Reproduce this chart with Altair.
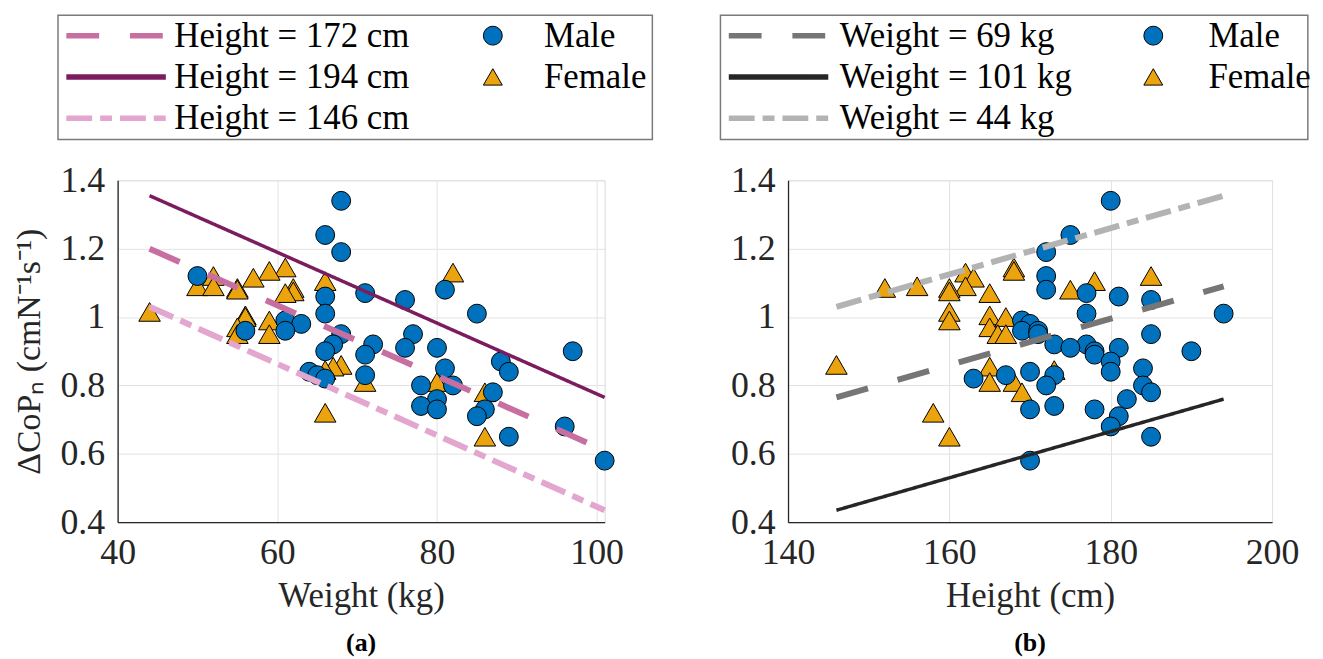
import altair as alt
import pandas as pd

# ---------------- data ----------------
# Male subjects: body weight (kg), height (cm), normalised CoP change
male_weight = [68, 66, 68, 50, 81, 71, 66, 76, 66, 85, 61, 63, 56, 61, 68, 77, 67, 72, 76, 80, 66,
               97, 71, 88, 81, 64, 89, 65, 71, 66, 78, 82, 87, 80, 78, 80, 86, 85, 96, 89, 101]
male_height = [180, 175, 172, 172, 172, 177, 181, 185, 177, 194, 169, 170, 169, 171, 171, 185, 173, 177,
               175, 181, 190, 178, 178, 180, 184, 180, 170, 167, 173, 163, 184, 172, 185, 182, 173, 178,
               170, 181, 180, 185, 170]
male_dcop = [1.34, 1.24, 1.19, 1.12, 1.08, 1.07, 1.06, 1.05, 1.01, 1.01, 0.99, 0.98, 0.96, 0.96, 0.95,
             0.95, 0.92, 0.92, 0.91, 0.91, 0.90, 0.90, 0.89, 0.87, 0.85, 0.84, 0.84, 0.83, 0.83, 0.82,
             0.80, 0.80, 0.78, 0.76, 0.74, 0.73, 0.73, 0.71, 0.68, 0.65, 0.58]

# Female subjects
female_weight = [61, 59, 82, 52, 57, 66, 50, 52, 55, 62, 55, 62, 61, 44, 56, 56, 59, 55, 59, 55,
                 68, 67, 66, 71, 80, 86, 66, 86]
female_height = [168, 168, 162, 185, 163, 178, 156, 162, 152, 160, 175, 160, 165, 160, 165, 167, 160,
                 165, 166, 167, 146, 165, 173, 165, 168, 169, 158, 160]
female_dcop = [1.145, 1.135, 1.13, 1.12, 1.115, 1.105, 1.09, 1.09, 1.085, 1.085, 1.08, 1.075, 1.07,
               1.015, 1.005, 1.00, 0.99, 0.97, 0.95, 0.95, 0.86, 0.855, 0.845, 0.81, 0.81, 0.78, 0.72, 0.65]

# Model lines, panel (a): end points over the weight range
line_weight_range = [44, 101]
height_names = ["Height = 172 cm", "Height = 194 cm", "Height = 146 cm"]
height_172_line = [1.20, 0.61]
height_194_line = [1.355, 0.765]
height_146_line = [1.03, 0.435]

# Model lines, panel (b): end points over the height range
line_height_range = [146, 194]
weight_names = ["Weight = 69 kg", "Weight = 101 kg", "Weight = 44 kg"]
weight_69_line = [0.765, 1.09]
weight_101_line = [0.435, 0.76]
weight_44_line = [1.03, 1.355]

sex_names = ["Male", "Female"]
y_ticks = [0.4, 0.6, 0.8, 1.0, 1.2, 1.4]

# ---------------- tables ----------------
subjects = pd.DataFrame({
    "weight": female_weight + male_weight,
    "height": female_height + male_height,
    "dcop": female_dcop + male_dcop,
    "sex": ["Female"] * len(female_weight) + ["Male"] * len(male_weight),
})

lines_a = pd.DataFrame({
    "weight": line_weight_range * 3,
    "dcop": height_172_line + height_194_line + height_146_line,
    "line": [n for n in height_names for _ in range(2)],
})
lines_b = pd.DataFrame({
    "height": line_height_range * 3,
    "dcop": weight_69_line + weight_101_line + weight_44_line,
    "line": [n for n in weight_names for _ in range(2)],
})

FONT = "Liberation Serif"
FS = 36
LEG_FS = 35
LEG_Y = -163
DASHES = [[33, 31], [1, 0], [26, 8, 12, 8]]


def panel(xfield, xdomain, xticks, xtitle, width, lines_df, names, colors,
          line_leg_x, line_label_offset, mark_leg_x, mark_label_offset, box_x, ytitle, caption):
    xenc = alt.X(f"{xfield}:Q", scale=alt.Scale(domain=xdomain, nice=False, zero=False),
                 axis=alt.Axis(values=xticks, title=xtitle, format="d"))
    yaxis_kwargs = dict(values=y_ticks, format="~g")
    yaxis_kwargs["title"] = ytitle if ytitle else None
    yenc = alt.Y("dcop:Q", scale=alt.Scale(domain=[0.4, 1.4], nice=False, zero=False),
                 axis=alt.Axis(**yaxis_kwargs))

    leg_pts = alt.Legend(title=None, orient="none", legendX=mark_leg_x, legendY=LEG_Y,
                         labelFont=FONT, labelFontSize=LEG_FS, labelColor="black",
                         labelOffset=mark_label_offset, labelLimit=400,
                         symbolSize=361, symbolStrokeColor="black", symbolStrokeWidth=1,
                         rowPadding=5.5, padding=0)
    shape_enc = alt.Shape("sex:N", scale=alt.Scale(domain=sex_names, range=["circle", "triangle-up"]),
                          legend=leg_pts)
    color_enc = alt.Color("sex:N", scale=alt.Scale(domain=sex_names, range=["#0072BD", "#EBA30E"]),
                          legend=leg_pts)
    base_pts = alt.Chart(subjects)
    pts_f = base_pts.transform_filter(alt.datum.sex == "Female").mark_point(
        filled=True, stroke="black", strokeWidth=1, opacity=1, size=470
    ).encode(x=xenc, y=yenc, shape=shape_enc, color=color_enc)
    pts_m = base_pts.transform_filter(alt.datum.sex == "Male").mark_point(
        filled=True, stroke="black", strokeWidth=1, opacity=1, size=361
    ).encode(x=xenc, y=yenc, shape=shape_enc, color=color_enc)

    leg_lines = alt.Legend(title=None, orient="none", legendX=line_leg_x, legendY=LEG_Y,
                           labelFont=FONT, labelFontSize=LEG_FS, labelColor="black",
                           labelOffset=line_label_offset, labelLimit=400,
                           symbolType="M-8.1,0H1", symbolSize=484, symbolStrokeWidth=5.5,
                           rowPadding=5.5, padding=0)
    lines = alt.Chart(lines_df).mark_line(strokeCap="butt").encode(
        x=alt.X(f"{xfield}:Q"), y=alt.Y("dcop:Q"),
        stroke=alt.Stroke("line:N", scale=alt.Scale(domain=names, range=colors), legend=leg_lines),
        strokeDash=alt.StrokeDash("line:N", scale=alt.Scale(domain=names, range=DASHES), legend=leg_lines),
        strokeWidth=alt.condition(alt.datum.line == names[1], alt.value(3.5), alt.value(6)),
    )

    frame = alt.Chart(pd.DataFrame({"k": [0]})).mark_rect(
        fillOpacity=0, stroke="#7a7a7a", strokeWidth=1.5
    ).encode(x=alt.value(box_x[0]), x2=alt.value(box_x[1]), y=alt.value(-166), y2=alt.value(-41))

    return alt.layer(frame, pts_f, pts_m, lines).properties(
        width=width, height=344,
        title=alt.TitleParams(caption, orient="bottom", font=FONT, fontSize=26, fontWeight="bold",
                              color="black", offset=17),
    )


left = panel("weight", [40, 101], [40, 60, 80, 100], "Weight (kg)", 490, lines_a, height_names,
             ["#C86FA2", "#7B1C5E", "#E2A6CF"],
             20, 2, 360, 34, [-60, 538], "ΔCoPₙ (cmN⁻¹s⁻¹)", "(a)")
right = panel("height", [140, 200], [140, 160, 180, 200], "Height (cm)", 487, lines_b, weight_names,
              ["#767676", "#262626", "#B3B3B3"],
              12, 5, 350, 38, [-68, 523], None, "(b)")

chart = alt.hconcat(left, right, spacing=184.5, bounds="flush").resolve_scale(
    x="independent", y="independent", stroke="independent", strokeDash="independent",
    shape="independent", color="independent",
).resolve_legend(
    stroke="independent", strokeDash="independent", shape="independent", color="independent",
).properties(
    autosize=alt.AutoSizeParams(type="none"),
    padding={"left": 110.3, "top": 170.3, "right": 1204.7, "bottom": 480.7},
).configure_view(
    stroke="#d9d9d9", strokeWidth=1,
).configure_axis(
    labelFont=FONT, labelFontSize=FS, labelColor="#262626", labelPadding=14, labelFlush=False,
    titleFont=FONT, titleFontSize=35, titleFontWeight="normal", titleColor="#262626",
    domainColor="#262626", domainWidth=1.3, gridColor="#e3e3e3", gridWidth=1,
    ticks=False, titlePadding=8,
).configure_axisY(
    labelPadding=13, titleFontSize=34, titlePadding=14,
)

chart.save("out.html", embed_options={"renderer": "svg", "actions": False})
